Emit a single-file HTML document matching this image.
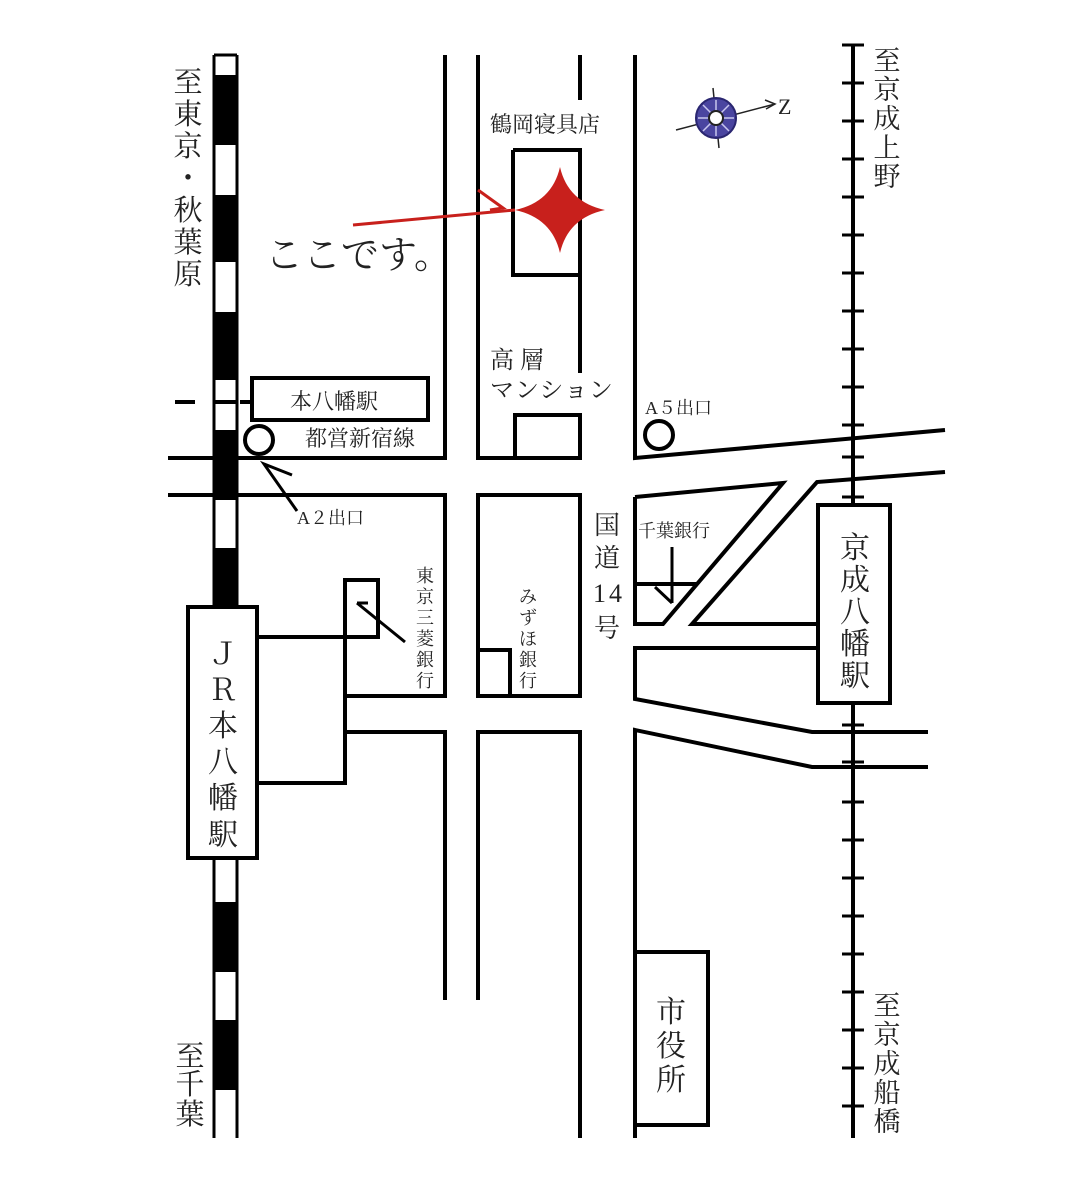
<!DOCTYPE html>
<html><head><meta charset="utf-8"><style>
html,body{margin:0;padding:0;background:#fff;}
svg{display:block;}
text{font-family:"Liberation Serif","Noto Serif CJK SC","Noto Sans CJK JP",serif;fill:#222;}
</style></head><body>
<svg width="1088" height="1188" viewBox="0 0 1088 1188" xmlns="http://www.w3.org/2000/svg">
<g fill="none" stroke="#000" stroke-width="4">
<line x1="214" y1="55" x2="214" y2="607" stroke-width="3"/>
<line x1="237" y1="55" x2="237" y2="607" stroke-width="3"/>
<line x1="214" y1="55" x2="237" y2="55" stroke-width="3"/>
<line x1="214" y1="858" x2="214" y2="1138" stroke-width="3"/>
<line x1="237" y1="858" x2="237" y2="1138" stroke-width="3"/>
</g>
<g fill="#000">
<rect x="214" y="75" width="23" height="70"/>
<rect x="214" y="195" width="23" height="67"/>
<rect x="214" y="312" width="23" height="68"/>
<rect x="214" y="430" width="23" height="70"/>
<rect x="214" y="548" width="23" height="59"/>
<rect x="214" y="902" width="23" height="70"/>
<rect x="214" y="1020" width="23" height="70"/>
</g>
<g fill="none" stroke="#000" stroke-width="4">
<line x1="175" y1="402" x2="195" y2="402"/>
<line x1="215" y1="402" x2="236" y2="402"/>
<line x1="240" y1="402" x2="252" y2="402"/>
<rect x="252" y="378" width="176" height="42"/>
<circle cx="259" cy="440" r="14"/>
<polyline points="168,458 214,458"/>
<polyline points="237,458 445,458 445,55"/>
<polyline points="478,55 478,458 580,458 580,415 515,415 515,458"/>
<line x1="580" y1="55" x2="580" y2="100"/>
<polyline points="513,150 580,150 580,373"/>
<polyline points="513,150 513,275 580,275"/>
<polyline points="168,495 214,495"/>
<polyline points="237,495 445,495 445,696 345,696"/>
<polyline points="292,475 264,464 297,511" stroke-width="3"/>
<rect x="345" y="580" width="33" height="57"/>
<polyline points="357,603 368,603" stroke-width="3"/>
<line x1="357" y1="603" x2="405" y2="642" stroke-width="3"/>
<polyline points="258,637 378,637" />
<polyline points="345,637 345,783 258,783"/>
<polyline points="345,732 445,732 445,1000"/>
<rect x="188" y="607" width="69" height="251"/>
<rect x="478" y="495" width="102" height="201"/>
<polyline points="478,650 510,650 510,696"/>
<polyline points="478,1000 478,732 580,732 580,1138"/>
<polyline points="635,55 635,458 945,430"/>
<polyline points="635,497 783,483 663,624 635,624 635,497"/>
<line x1="635" y1="584" x2="697" y2="584"/>
<line x1="672" y1="547" x2="672" y2="603" stroke-width="3"/>
<line x1="655" y1="587" x2="672" y2="603" stroke-width="3"/>
<polyline points="945,472 817,482 692,624 818,624"/>
<polyline points="818,648 635,648 635,699 812,732 928,732"/>
<polyline points="635,1138 635,730 812,767 928,767"/>
<rect x="635" y="952" width="73" height="173"/>
<line x1="853" y1="45" x2="853" y2="505" stroke-width="4"/>
<line x1="853" y1="703" x2="853" y2="1138" stroke-width="4"/>
<rect x="818" y="505" width="72" height="198"/>
<circle cx="659" cy="435" r="14"/>
</g>
<g stroke="#000" stroke-width="3">
<line x1="842" y1="45" x2="864" y2="45"/><line x1="842" y1="83" x2="864" y2="83"/><line x1="842" y1="121" x2="864" y2="121"/><line x1="842" y1="159" x2="864" y2="159"/><line x1="842" y1="197" x2="864" y2="197"/><line x1="842" y1="235" x2="864" y2="235"/><line x1="842" y1="273" x2="864" y2="273"/><line x1="842" y1="311" x2="864" y2="311"/><line x1="842" y1="349" x2="864" y2="349"/><line x1="842" y1="387" x2="864" y2="387"/><line x1="842" y1="425" x2="864" y2="425"/><line x1="842" y1="457" x2="864" y2="457"/><line x1="842" y1="497" x2="864" y2="497"/>
<line x1="842" y1="725" x2="864" y2="725"/><line x1="842" y1="762" x2="864" y2="762"/><line x1="842" y1="802" x2="864" y2="802"/><line x1="842" y1="840" x2="864" y2="840"/><line x1="842" y1="878" x2="864" y2="878"/><line x1="842" y1="916" x2="864" y2="916"/><line x1="842" y1="954" x2="864" y2="954"/><line x1="842" y1="992" x2="864" y2="992"/><line x1="842" y1="1030" x2="864" y2="1030"/><line x1="842" y1="1068" x2="864" y2="1068"/><line x1="842" y1="1106" x2="864" y2="1106"/>
</g>
<g stroke="#c8201c" stroke-width="3" fill="none">
<line x1="353" y1="225" x2="515" y2="210"/>
<polyline points="478,190 503,208 490,210"/>
</g>
<path d="M560,167 Q568,202 605,210 Q568,218 560,253 Q552,218 515,210 Q552,202 560,167Z" fill="#c8201c"/>
<line x1="676" y1="130" x2="775" y2="104" stroke="#222" stroke-width="1.5"/>
<polyline points="765,100 775,104 766,109" fill="none" stroke="#222" stroke-width="1.5"/>
<line x1="713" y1="88" x2="719" y2="148" stroke="#222" stroke-width="1.5"/>
<circle cx="716" cy="118" r="20" fill="#4a45a0" stroke="#2a2670" stroke-width="2"/>
<g stroke="#c8c6ee" stroke-width="1.5">
<line x1="716" y1="100" x2="716" y2="136"/><line x1="698" y1="118" x2="734" y2="118"/>
<line x1="703" y1="105" x2="729" y2="131"/><line x1="729" y1="105" x2="703" y2="131"/>
</g>
<circle cx="716" cy="118" r="7" fill="#fff" stroke="#222" stroke-width="2"/>
<text x="778" y="114" font-size="22">Z</text>
<g font-size="29" text-anchor="middle">
<text x="188" y="92">至</text><text x="188" y="124">東</text><text x="188" y="156">京</text><text x="188" y="188">・</text><text x="188" y="220">秋</text><text x="188" y="252">葉</text><text x="188" y="284">原</text>
<text x="190" y="1066">至</text><text x="190" y="1094">千</text><text x="190" y="1124">葉</text>
</g>
<g font-size="27" text-anchor="middle">
<text x="887" y="70">至</text><text x="887" y="99">京</text><text x="887" y="128">成</text><text x="887" y="157">上</text><text x="887" y="186">野</text>
<text x="887" y="1015">至</text><text x="887" y="1044">京</text><text x="887" y="1073">成</text><text x="887" y="1102">船</text><text x="887" y="1131">橋</text>
</g>
<text x="490" y="132" font-size="22">鶴岡寝具店</text>
<text x="265" y="268" font-size="38" font-family="Liberation Sans, Noto Sans CJK JP, sans-serif">ここです。</text>
<text x="490" y="368" font-size="24">高 層</text>
<text x="490" y="398" font-size="24" letter-spacing="1">マンション</text>
<text x="290" y="409" font-size="22">本八幡駅</text>
<text x="305" y="446" font-size="22">都営新宿線</text>
<text x="645" y="414" font-size="18">A５出口</text>
<text x="297" y="524" font-size="18">A２出口</text>
<text x="638" y="537" font-size="18">千葉銀行</text>
<g font-size="26" text-anchor="middle">
<text x="607" y="534">国</text><text x="607" y="567">道</text><text x="607" y="637">号</text>
</g>
<text x="593" y="602" font-size="26">1</text>
<text x="609" y="602" font-size="26">4</text>
<g font-size="18" text-anchor="middle">
<text x="425" y="582">東</text><text x="425" y="603">京</text><text x="425" y="624">三</text><text x="425" y="645">菱</text><text x="425" y="666">銀</text><text x="425" y="687">行</text>
<text x="528" y="603">み</text><text x="528" y="624">ず</text><text x="528" y="645">ほ</text><text x="528" y="666">銀</text><text x="528" y="687">行</text>
</g>
<g font-size="30" text-anchor="middle">
<text x="223" y="664">Ｊ</text><text x="223" y="700">Ｒ</text><text x="223" y="736">本</text><text x="223" y="772">八</text><text x="223" y="808">幡</text><text x="223" y="845">駅</text>
<text x="855" y="558">京</text><text x="855" y="590">成</text><text x="855" y="622">八</text><text x="855" y="654">幡</text><text x="855" y="686">駅</text>
<text x="671" y="1022">市</text><text x="671" y="1056">役</text><text x="671" y="1090">所</text>
</g>
</svg>
</body></html>
